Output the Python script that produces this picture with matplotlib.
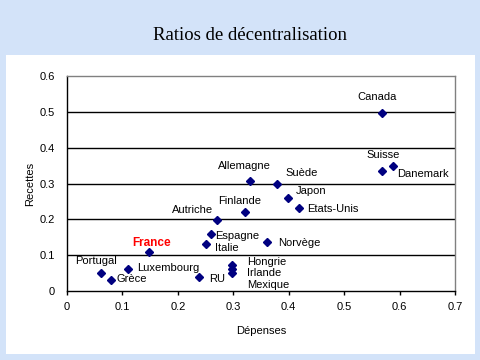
import matplotlib
matplotlib.use("Agg")
import matplotlib.pyplot as plt
from matplotlib.patches import Rectangle

countries = ["Canada", "Suisse", "Danemark", "Allemagne", "Suède", "Japon",
             "Etats-Unis", "Finlande", "Autriche", "Espagne", "Italie",
             "Norvège", "Hongrie", "Irlande", "Mexique", "RU", "France",
             "Portugal", "Grèce", "Luxembourg"]
depenses = [0.569, 0.569, 0.588, 0.330, 0.379, 0.399, 0.419, 0.321, 0.270,
            0.260, 0.250, 0.361, 0.298, 0.298, 0.298, 0.238, 0.148, 0.061,
            0.079, 0.110]
recettes = [0.497, 0.335, 0.349, 0.307, 0.299, 0.260, 0.232, 0.221, 0.198,
            0.159, 0.131, 0.137, 0.073, 0.061, 0.050, 0.039, 0.109, 0.050,
            0.031, 0.061]
x_ticks = [0, 0.1, 0.2, 0.3, 0.4, 0.5, 0.6, 0.7]
y_ticks = [0, 0.1, 0.2, 0.3, 0.4, 0.5, 0.6]

# label placement (pixel offsets, alignment)
label_style = {
    "Canada": (-5, 16, "center"), "Suisse": (1, 16, "center"),
    "Danemark": (4, -8, "left"), "Allemagne": (-5, 15, "center"),
    "Suède": (8, 11, "left"), "Japon": (8, 7, "left"),
    "Etats-Unis": (8, -1, "left"), "Finlande": (-5, 11, "center"),
    "Autriche": (-4, 10, "right"), "Espagne": (4, -2, "left"),
    "Italie": (9, -4, "left"), "Norvège": (11, -1, "left"),
    "Hongrie": (15, 3, "left"), "Irlande": (15, -4, "left"),
    "Mexique": (15, -12, "left"), "RU": (10, -2, "left"),
    "France": (3, 9, "center"), "Portugal": (-5, 12, "center"),
    "Grèce": (6, 1, "left"), "Luxembourg": (9, 1, "left"),
}

plt.rcParams['font.family'] = ['Liberation Sans', 'DejaVu Sans']

fig = plt.figure(figsize=(4.8, 3.6), dpi=100)
fig.patch.set_facecolor('#d3e3f9')
fig.patches.append(Rectangle((6 / 480, 1 - 354 / 360), 469 / 480, 299 / 360,
                             transform=fig.transFigure, facecolor='white',
                             edgecolor='none', zorder=-5))

ax = fig.add_axes([67 / 480, 1 - 291 / 360, 388 / 480, 215 / 360])
ax.set_zorder(2)
ax.set_facecolor('white')
ax.set_xlim(0, 0.7)
ax.set_ylim(0, 0.6)
ax.set_xticks(x_ticks)
ax.set_yticks(y_ticks)
ax.set_xticklabels([f"{v:g}" for v in x_ticks], fontsize=8)
ax.set_yticklabels([f"{v:g}" for v in y_ticks], fontsize=8)
ax.tick_params(axis='x', direction='out', length=3, width=1, pad=5)
ax.tick_params(axis='y', length=0, pad=9)

for v in y_ticks[1:-1]:
    ax.axhline(v, color='black', lw=1, zorder=1)

ax.spines['left'].set_color('black')
ax.spines['bottom'].set_color('black')
ax.spines['top'].set_color('#808080')
ax.spines['right'].set_color('#808080')
for s in ax.spines.values():
    s.set_linewidth(1)

ax.plot(depenses, recettes, linestyle='none', marker='D', markersize=4.3,
        color='#000080', zorder=3, clip_on=False)

for name, xv, yv in zip(countries, depenses, recettes):
    dx, dy, ha = label_style[name]
    if name == "France":
        ax.annotate(name, (xv, yv), xytext=(dx, dy), textcoords='offset pixels',
                    ha=ha, va='center', fontsize=8.5, color='#ff0000',
                    fontweight='bold')
    else:
        ax.annotate(name, (xv, yv), xytext=(dx, dy), textcoords='offset pixels',
                    ha=ha, va='center', fontsize=8, color='black')

ax.set_xlabel("Dépenses", fontsize=8, labelpad=10)
ax.set_ylabel("Recettes", fontsize=8, labelpad=3)

fig.text(250 / 480, 1 - 35 / 360, "Ratios de décentralisation",
         ha='center', va='center', fontsize=13.5, family='Liberation Serif')

fig.savefig("out.png", dpi=100, facecolor=fig.get_facecolor())
